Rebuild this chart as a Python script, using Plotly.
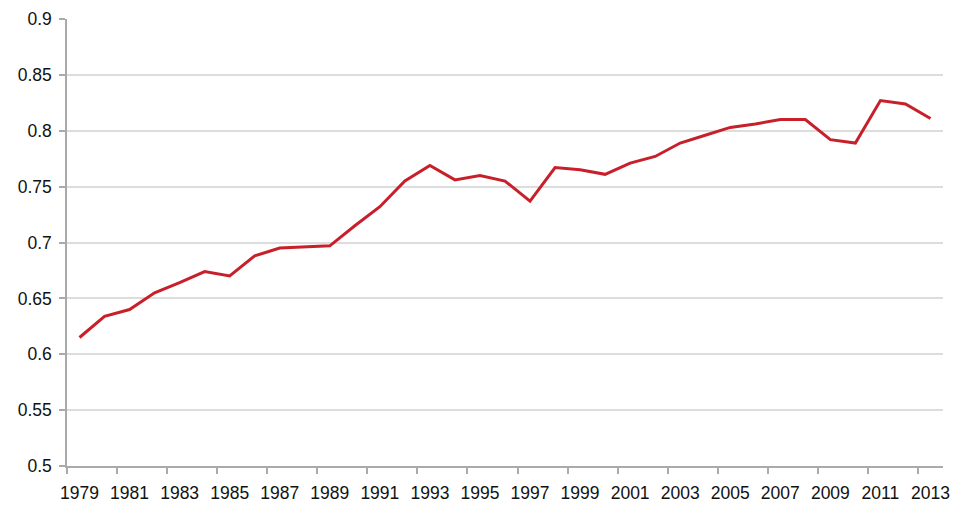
import plotly.graph_objects as go

years = [str(y) for y in range(1979, 2014)]
values = [0.615, 0.634, 0.640, 0.655, 0.664, 0.674, 0.670, 0.688, 0.695, 0.696,
          0.697, 0.715, 0.732, 0.755, 0.769, 0.756, 0.760, 0.755, 0.737, 0.767,
          0.765, 0.761, 0.771, 0.777, 0.789, 0.796, 0.803, 0.806, 0.810, 0.810,
          0.792, 0.789, 0.827, 0.824, 0.811]
y_ticks = [0.5, 0.55, 0.6, 0.65, 0.7, 0.75, 0.8, 0.85, 0.9]
y_tick_text = ["0.5", "0.55", "0.6", "0.65", "0.7", "0.75", "0.8", "0.85", "0.9"]

fig = go.Figure()
fig.add_trace(go.Scatter(x=years, y=values, mode="lines",
                         line=dict(color="#c8202a", width=3), showlegend=False))

font = dict(family="Liberation Sans, Arial, Helvetica, sans-serif", size=17.5, color="#111111")
# page body has an 8px margin, so the figure is sized/offset to compensate
fig.update_layout(
    width=944, height=495,
    margin=dict(l=59, r=9, t=11, b=37),
    paper_bgcolor="white", plot_bgcolor="white",
    font=font,
    xaxis=dict(type="category", dtick=2, tickson="boundaries", tickangle=0,
               automargin=False, ticklabelstandoff=10,
               ticks="outside", ticklen=6, tickcolor="#aaaaaa", tickwidth=1.5,
               showline=True, linecolor="#aaaaaa", linewidth=1.5,
               showgrid=False, tickfont=font, range=[-0.5, 34.5]),
    yaxis=dict(range=[0.5, 0.9], tickvals=y_ticks, ticktext=y_tick_text,
               automargin=False, ticklabelstandoff=4,
               ticks="outside", ticklen=6, tickcolor="#aaaaaa", tickwidth=1.5,
               showline=True, linecolor="#aaaaaa", linewidth=1.5,
               showgrid=True, gridcolor="#dddddd", gridwidth=1.5,
               zeroline=False, tickfont=font),
)
fig.write_html("out.html")
